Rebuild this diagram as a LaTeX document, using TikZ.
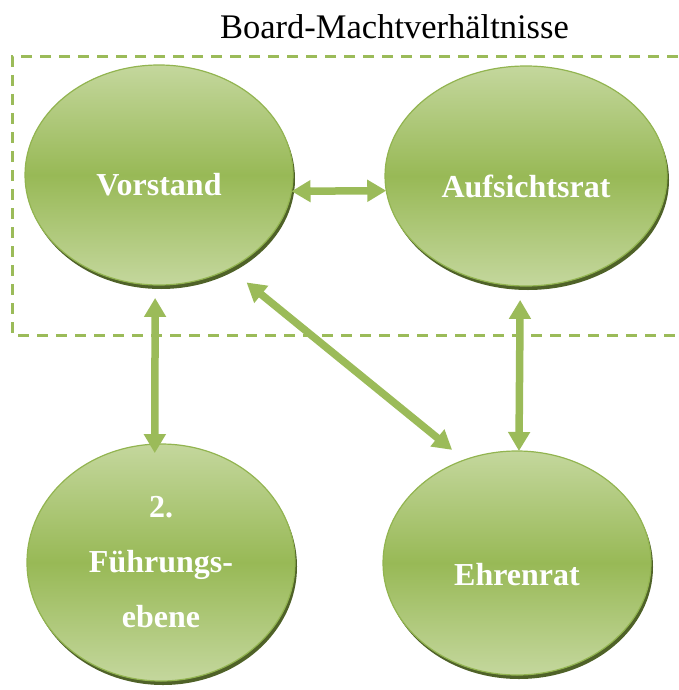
\documentclass[tikz,border=0pt]{standalone}
\usepackage{fontspec}
\setmainfont{Liberation Serif}
\usetikzlibrary{shapes.geometric,arrows.meta,shadows}

\definecolor{arrowg}{RGB}{155,187,89}
\definecolor{lightg}{RGB}{196,215,157}
\definecolor{midg}{RGB}{152,185,86}
\definecolor{rimg}{RGB}{146,180,80}
\definecolor{shadowg}{RGB}{79,98,40}

\tikzset{
  bubble/.style={ellipse, inner sep=0pt, outer sep=0pt,
    top color=lightg, bottom color=lightg, middle color=midg,
    draw=rimg, line width=1.2pt,
    drop shadow={shadow xshift=2pt, shadow yshift=-4pt, fill=shadowg, opacity=1}},
  lbl/.style={text=white, font=\bfseries\fontsize{32}{55}\selectfont, align=center},
  link/.style={draw=arrowg, line width=7.5pt,
    {Triangle[width=21pt,length=19pt]}-{Triangle[width=21pt,length=19pt]}},
  frame/.style={draw=arrowg, line width=3pt, dash pattern=on 11pt off 8pt},
  heading/.style={font=\fontsize{34.5}{40}\selectfont, anchor=base}
}

\begin{document}
\begin{tikzpicture}[x=1pt, y=-1pt]
  \useasboundingbox (0,0) rectangle (678,690);

  % board frame, open to the right
  \draw[frame] (678,57) -- (12,57) -- (12,335) -- (678,335);
  \node[heading] (title) at (394.5,39) {Board-Machtverhältnisse};

  % bodies
  \node[bubble, minimum width=268pt, minimum height=220pt,
        label={[lbl, yshift=-10pt]center:Vorstand}] (V) at (159,175) {};
  \node[bubble, minimum width=282pt, minimum height=220pt,
        label={[lbl, yshift=-10pt]center:Aufsichtsrat}] (A) at (526,176) {};
  \node[bubble, minimum width=268pt, minimum height=237pt,
        label={[lbl]center:2.\\Führungs-\\ebene}] (F) at (161,562.5) {};
  \node[bubble, minimum width=268pt, minimum height=224pt,
        label={[lbl, yshift=-12pt]center:Ehrenrat}] (E) at (517,563) {};

  % relations
  \draw[link] (V.-7.3) -- (A.186.5);
  \draw[link, shorten <=13pt, shorten >=-9pt] (V.-92) -- (F.93);
  \draw[link, shorten <=14pt] (A.-93.6) -- (E.89);
  \draw[link, shorten <=22pt, shorten >=16pt] (V.-53.8) -- (E.117);
\end{tikzpicture}
\end{document}
